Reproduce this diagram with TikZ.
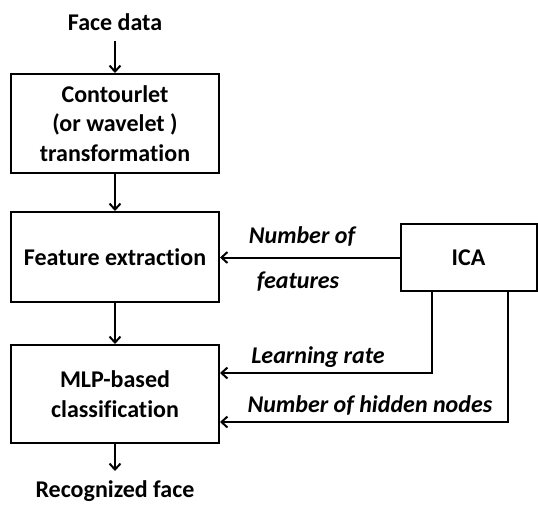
\documentclass[tikz,border=0pt]{standalone}
\usepackage{fontspec}
\setmainfont{Carlito}[Ligatures=NoCommon]
\usetikzlibrary{arrows.meta}
\begin{document}
\begin{tikzpicture}[x=1pt,y=-1pt,
  box/.style={draw,line width=2pt,minimum width=208pt,inner sep=0pt,align=center,
    font=\fontsize{24}{29.5}\selectfont\bfseries},
  lbl/.style={anchor=base,inner sep=0pt,font=\fontsize{24}{29.5}\selectfont\bfseries\itshape},
  txt/.style={anchor=base,inner sep=0pt,font=\fontsize{24}{29.5}\selectfont\bfseries},
  arr/.style={line width=2pt,-{Straight Barb[length=6pt,width=11pt,line width=2pt]}}]
\useasboundingbox (0,0) rectangle (538,504);
\node[txt] (face) at (115,30) {Face data};
\node[box,minimum height=99pt] (b1) at (115,123.5) {Contourlet\\(or wavelet )\\transformation};
\node[box,minimum height=90pt] (b2) at (115,257) {Feature extraction};
\node[box,minimum height=98pt] (b3) at (115,394) {MLP-based\\classification};
\node[box,minimum width=136pt,minimum height=67pt] (ica) at (468.5,257.5) {ICA};
\node[txt] (rec) at (115,497) {Recognized face};
\coordinate (fs) at (115,41);
\coordinate (re) at (115,471);
\coordinate (c1) at (432,373);
\coordinate (c2) at (508,422);
\draw[arr] (fs) -- (b1.north);
\draw[arr] (b1.south) -- (b2.north);
\draw[arr] (b2.south) -- (b3.north);
\draw[arr] (b3.south) -- (re);
\draw[arr] (ica.west) -- (b2.east |- ica.west);
\draw[arr] (ica.south -| c1) |- (b3.east |- c1);
\draw[arr] (ica.south -| c2) |- (b3.east |- c2);
\node[lbl] (l1) at (302,243) {Number of};
\node[lbl] (l2) at (298,288) {features};
\node[lbl] (l3) at (318,363) {Learning rate};
\node[lbl] (l4) at (370,412) {Number of hidden nodes};
\end{tikzpicture}
\end{document}
